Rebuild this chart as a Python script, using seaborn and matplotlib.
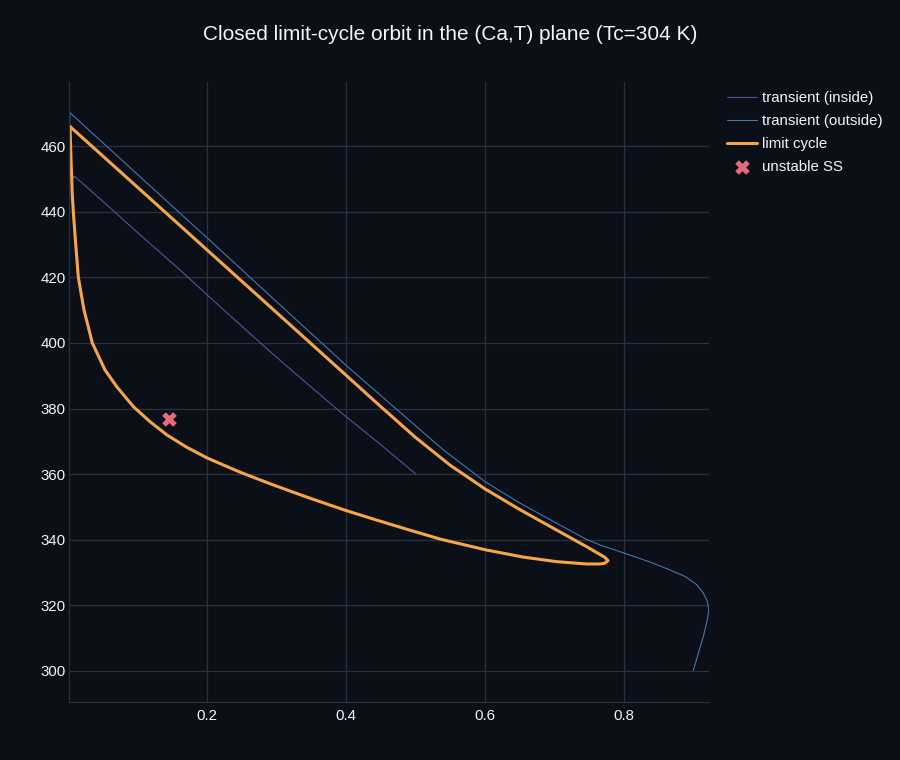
import matplotlib
matplotlib.use('Agg')
import matplotlib.pyplot as plt
import seaborn as sns

# trajectories (Ca, T)
inside_ca = [0.5, 0.45, 0.391, 0.3194, 0.288, 0.2, 0.161, 0.1, 0.0485, 0.009, 0.0065]
inside_t = [360.1, 369.0, 379.1, 392.1, 397.9, 414.7, 422.3, 433.7, 443.5, 450.9, 450.0]

outside_ca = [0.8998, 0.907, 0.9142, 0.9199, 0.922, 0.9199, 0.9142, 0.9046, 0.8878, 0.866,
              0.8374, 0.8005, 0.7655, 0.746, 0.698, 0.65, 0.6, 0.54, 0.4, 0.3, 0.2, 0.1,
              0.003, 0.0025, 0.003]
outside_t = [300.1, 305.4, 310.5, 315.6, 318.6, 321.2, 323.7, 326.3, 328.8, 330.8,
             333.2, 335.9, 338.4, 340.1, 345.6, 351.2, 357.7, 367.4, 393.2, 412.6, 432.1, 451.4,
             470.2, 467.0, 465.0]

cycle_ca = [0.003, 0.1, 0.2, 0.3, 0.39, 0.45, 0.5, 0.55, 0.6, 0.65, 0.7, 0.746,
            0.7727, 0.777, 0.772, 0.765, 0.746, 0.703, 0.655, 0.601, 0.5353, 0.4873,
            0.4393, 0.4, 0.3434, 0.2954, 0.2475, 0.2005, 0.1708, 0.142, 0.118, 0.094,
            0.07, 0.0532, 0.035, 0.023, 0.0149, 0.011, 0.0077, 0.0062, 0.0045, 0.0035, 0.003]
cycle_t = [466.0, 447.5, 428.4, 409.3, 392.1, 380.6, 371.2, 362.7, 355.5, 349.2, 343.3, 337.9,
           334.6, 333.6, 332.8, 332.6, 332.6, 333.3, 334.7, 336.9, 340.2, 343.2,
           346.3, 348.9, 353.0, 356.7, 360.6, 364.9, 368.2, 372.0, 376.0, 380.6,
           386.7, 391.8, 400.0, 410.1, 420.0, 430.4, 440.0, 445.0, 455.0, 462.0, 466.0]

ss_ca = [0.1458]
ss_t = [376.8]

x_ticks = [0.2, 0.4, 0.6, 0.8]
y_ticks = [300, 320, 340, 360, 380, 400, 420, 440, 460]

bg = '#0b0f17'
grid_col = '#283040'
text_col = '#f2f5fa'

sns.set_theme(style='dark')
plt.rcParams['font.family'] = ['Liberation Sans', 'DejaVu Sans']

fig = plt.figure(figsize=(9, 7.6), dpi=100, facecolor=bg)
ax = fig.add_axes([69.3/900, 1-702/760, (708.7-69.3)/900, (702-82.3)/760])
ax.set_facecolor(bg)

sns.lineplot(x=inside_ca, y=inside_t, sort=False, estimator=None, ax=ax,
             color='#5b4f9e', linewidth=0.8, label='transient (inside)')
sns.lineplot(x=outside_ca, y=outside_t, sort=False, estimator=None, ax=ax,
             color='#4178b0', linewidth=0.8, label='transient (outside)')
sns.lineplot(x=cycle_ca, y=cycle_t, sort=False, estimator=None, ax=ax,
             color='#f7a548', linewidth=2.2, label='limit cycle')
sns.scatterplot(x=ss_ca, y=ss_t, ax=ax, marker='X', s=110, color='#e56b79',
                linewidth=0, label='unstable SS', zorder=5)

ax.set_xlim(0.0019, 0.9219)
ax.set_ylim(290.5, 479.5)
ax.set_xticks(x_ticks)
ax.set_xticklabels([str(v) for v in x_ticks])
ax.set_yticks(y_ticks)
ax.set_xlabel('')
ax.set_ylabel('')
ax.grid(True, color=grid_col, linewidth=0.9)
ax.set_axisbelow(True)
ax.tick_params(axis='x', length=0, pad=5, labelsize=10.8, colors=text_col)
ax.tick_params(axis='y', length=0, pad=2.5, labelsize=10.8, colors=text_col)
for side in ['top', 'right']:
    ax.spines[side].set_visible(False)
for side in ['left', 'bottom']:
    ax.spines[side].set_color(grid_col)
    ax.spines[side].set_linewidth(0.9)

fig.text(0.5, 1-35/760, 'Closed limit-cycle orbit in the (Ca,T) plane (Tc=304 K)',
         ha='center', va='center', fontsize=15, color=text_col)

ax.legend(loc='upper left', bbox_to_anchor=(727/900, 1-91/760), bbox_transform=fig.transFigure,
          frameon=False, fontsize=10.8, handlelength=2.0, handletextpad=0.35,
          labelspacing=0.6, borderaxespad=0, borderpad=0, labelcolor=text_col,
          scatterpoints=1)

fig.savefig('out.png', dpi=100, facecolor=bg)
